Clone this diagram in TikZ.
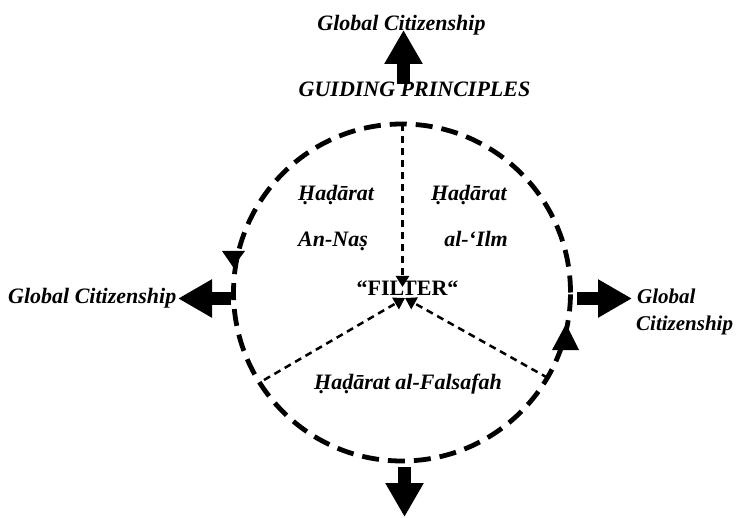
\documentclass[tikz,border=0pt]{standalone}
\usepackage{fontspec}
\setmainfont{Liberation Serif}
\usetikzlibrary{arrows.meta}

\begin{document}
\begin{tikzpicture}[x=1pt,y=-1pt,
  lbl/.style={font=\fontsize{22}{26}\selectfont\bfseries\itshape, inner sep=0pt},
  lblsmall/.style={font=\fontsize{21}{25}\selectfont\bfseries\itshape, inner sep=0pt},
  hublbl/.style={font=\fontsize{22}{26}\selectfont\bfseries, inner sep=0pt},
  blockarrow/.style={line width=13pt, -{Triangle[length=34pt,width=36pt]}},
  ring/.style={line width=4.8pt, dash pattern=on 17pt off 9pt},
  ringhead/.style={fill=black},
  spoke/.style={line width=2.5pt, dash pattern=on 7pt off 5pt,
    -{Triangle[length=11pt,width=13pt]}}]

\useasboundingbox (0,0) rectangle (738,518);

% centre of the ring and the points where the spokes start
\coordinate (c) at (402,292.5);
\coordinate (vTop) at (402.5,124.5);
\coordinate (vLeft) at (264,380);
\coordinate (vRight) at (548,378);
\coordinate (hubTop) at (402.5,287);
\coordinate (hub) at (405,298);

% dashed ring
\draw[ring] (c) ++(0:168.5) arc[start angle=0, end angle=-360, radius=168.5];

% direction marks on the ring (counter-clockwise flow)
\fill[ringhead] (233,267) -- (222,251) -- (245,251) -- cycle;
\fill[ringhead] (566,324) -- (552,350) -- (579,350) -- cycle;

% spokes into the filter
\draw[spoke] (vTop) -- (hubTop);
\draw[spoke] (vLeft) -- (hub);
\draw[spoke] (vRight) -- (hub);

% labels
\node[lbl, anchor=base] (gcTop) at (401.5,30.5) {Global Citizenship};
\node[lbl, anchor=base] (gp) at (414.5,96.5) {GUIDING PRINCIPLES};
\node[lbl, anchor=base west] (gcLeft) at (8,304) {Global Citizenship};
\node[lblsmall, anchor=base west] (gcRight1) at (637,303) {Global};
\node[lblsmall, anchor=base west] (gcRight2) at (636,330.5) {Citizenship};
\node[lbl, anchor=base west] (nasA) at (298,200.5) {Ḥaḍārat};
\node[lbl, anchor=base west] (nasB) at (298,247) {An-Naṣ};
\node[lbl, anchor=base east] (ilmA) at (507,200.5) {Ḥaḍārat};
\node[lbl, anchor=base east] (ilmB) at (508,247) {al-‘Ilm};
\node[hublbl, anchor=base] (filter) at (407.5,295) {“FILTER“};
\node[lbl, anchor=base] (fal) at (408,389) {Ḥaḍārat al-Falsafah};

% outward block arrows
\coordinate (topTail) at (403.5,84);
\coordinate (topTip) at (403.5,30);
\coordinate (leftTail) at (231,298.5);
\coordinate (leftTip) at (178,298.5);
\coordinate (rightTail) at (577,298.5);
\coordinate (rightTip) at (632,298.5);
\coordinate (botTail) at (404.5,467);
\coordinate (botTip) at (404.5,517);
\draw[blockarrow] (topTail) -- (topTip);
\draw[blockarrow] (leftTail) -- (leftTip);
\draw[blockarrow] (rightTail) -- (rightTip);
\draw[blockarrow] (botTail) -- (botTip);
\end{tikzpicture}
\end{document}
